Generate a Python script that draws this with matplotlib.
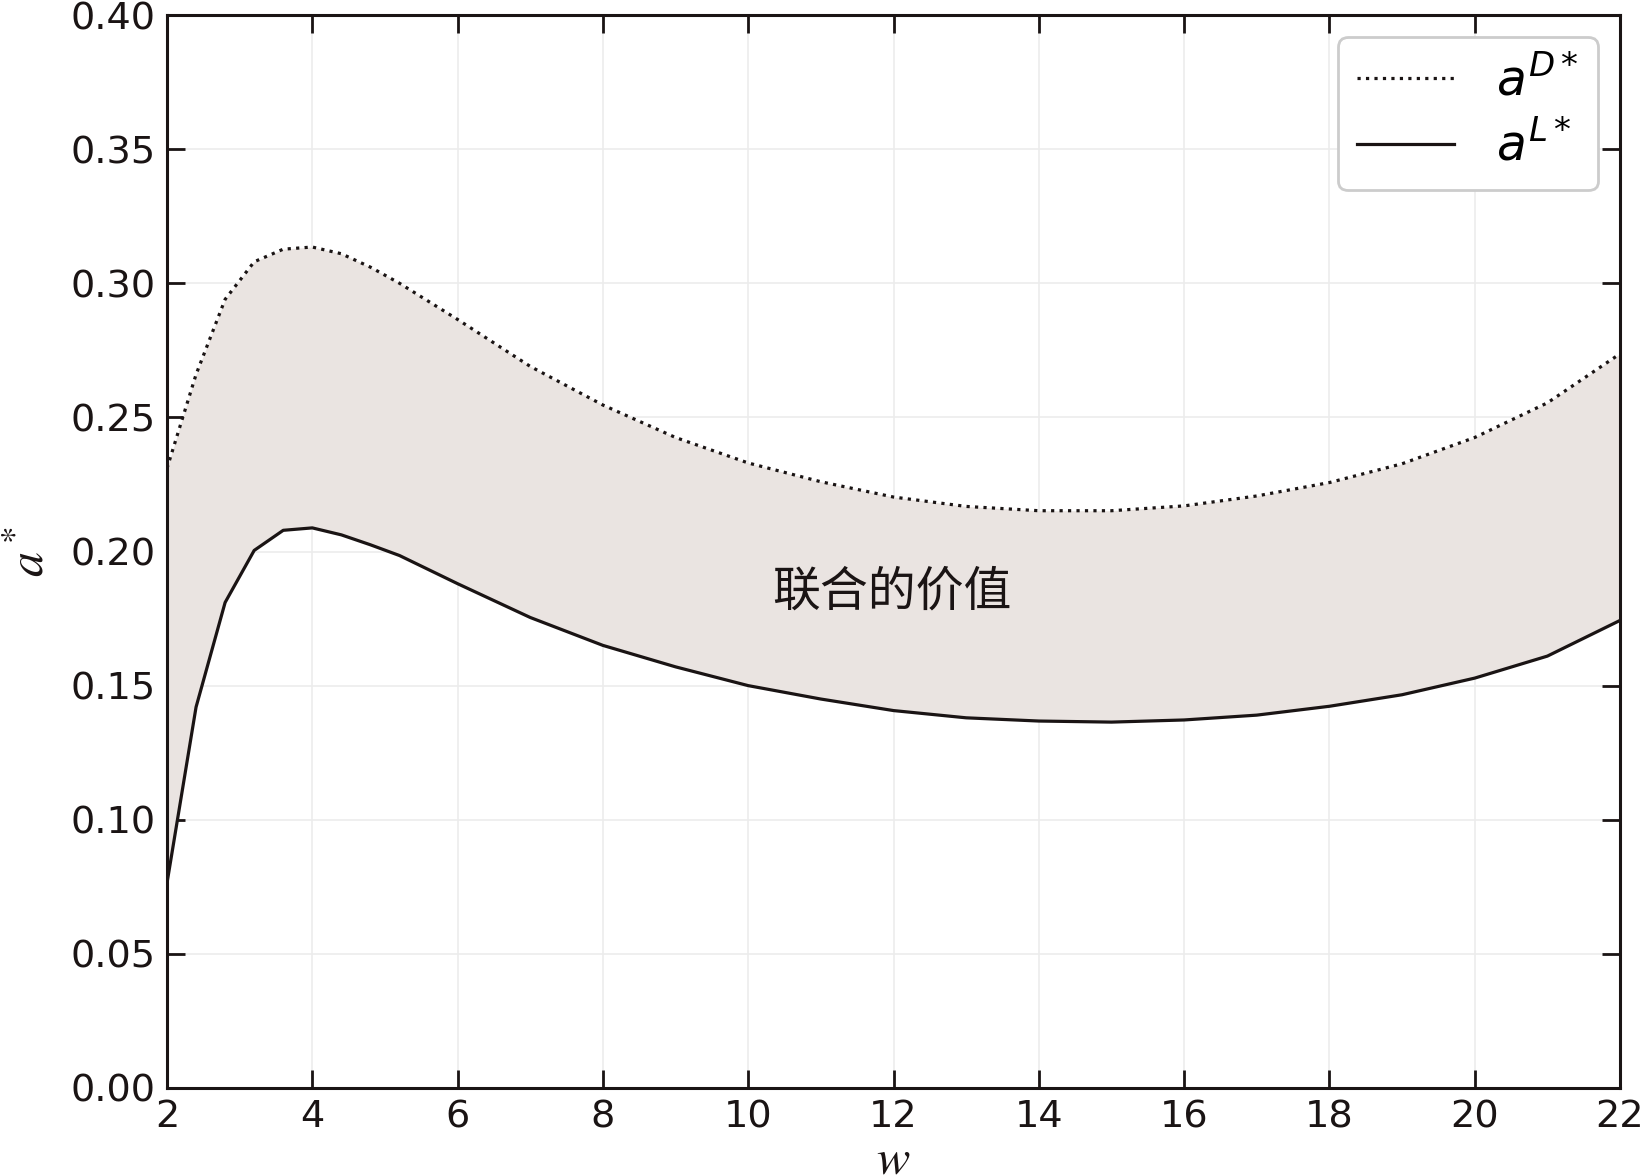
import matplotlib
matplotlib.use("Agg")
import matplotlib.pyplot as plt
import numpy as np

# Data
w = [2.0, 2.4, 2.8, 3.2, 3.6, 4.0, 4.4, 4.8, 5.2, 6, 7, 8, 9, 10, 11, 12, 13, 14, 15, 16, 17, 18, 19, 20, 21, 22]
a_D = [0.231, 0.266, 0.294, 0.308, 0.3127, 0.3135, 0.311, 0.306, 0.300, 0.2865, 0.269, 0.2546, 0.2425, 0.233,
       0.226, 0.2203, 0.2168, 0.2152, 0.2152, 0.217, 0.2207, 0.2257, 0.2327, 0.2425, 0.2554, 0.2737]
a_L = [0.0764, 0.142, 0.181, 0.2004, 0.2079, 0.2088, 0.2062, 0.2025, 0.1985, 0.188, 0.1754, 0.165, 0.157, 0.150,
       0.145, 0.1407, 0.138, 0.1368, 0.1364, 0.1372, 0.139, 0.1423, 0.1466, 0.1528, 0.161, 0.1743]
x_ticks = [2, 4, 6, 8, 10, 12, 14, 16, 18, 20, 22]
y_ticks = [0.00, 0.05, 0.10, 0.15, 0.20, 0.25, 0.30, 0.35, 0.40]
legend_labels = [r"$a^{D*}$", r"$a^{L*}$"]
region_label = "联合的价值"

plt.rcParams['font.family'] = ['DejaVu Sans']
plt.rcParams['mathtext.fontset'] = 'dejavusans'

fig = plt.figure(figsize=(16.41, 11.76), dpi=100)
ax = fig.add_axes([167/1641, 1-1088/1176, (1620-167)/1641, (1088-15)/1176])

ax.fill_between(w, a_L, a_D, color='#eae4e1', zorder=1, linewidth=0)
ax.plot(w, a_D, linestyle=':', color='#1a1414', lw=2.3, label=legend_labels[0], zorder=3)
ax.plot(w, a_L, linestyle='-', color='#1a1414', lw=2.3, label=legend_labels[1], zorder=3)

ax.set_xlim(2, 22)
ax.set_ylim(0, 0.40)
ax.set_xticks(x_ticks)
ax.set_yticks(y_ticks)
ax.set_yticklabels([f"{v:.2f}" for v in y_ticks])
ax.grid(True, color='#ececec', lw=1.2, zorder=0)
ax.set_axisbelow(True)
ax.tick_params(direction='in', length=13, width=2, labelsize=27.5, top=True, right=True,
               colors='#1a1414', pad=8)
for s in ax.spines.values():
    s.set_linewidth(2.2)
    s.set_color('#1a1414')

ax.set_xlabel(r"$w$", fontsize=36, math_fontfamily='stix', labelpad=0, color='#1a1414')
ax.set_ylabel(r"$a^*$", fontsize=36, math_fontfamily='stix', labelpad=12, color='#1a1414')

ax.text(11.98, 0.185, region_label, fontsize=34.5, family=['Noto Sans CJK SC', 'DejaVu Sans'],
        ha='center', va='center', color='#1a1414', zorder=4)

leg = ax.legend(loc='upper right', fontsize=35, frameon=True, fancybox=True,
                handlelength=2.0, borderpad=0.4, labelspacing=0.35, handletextpad=0.85,
                borderaxespad=0.45)
leg.get_frame().set_edgecolor('#cccccc')
leg.get_frame().set_linewidth(2)
leg.get_frame().set_alpha(1.0)

fig.savefig("out.png", dpi=100)
